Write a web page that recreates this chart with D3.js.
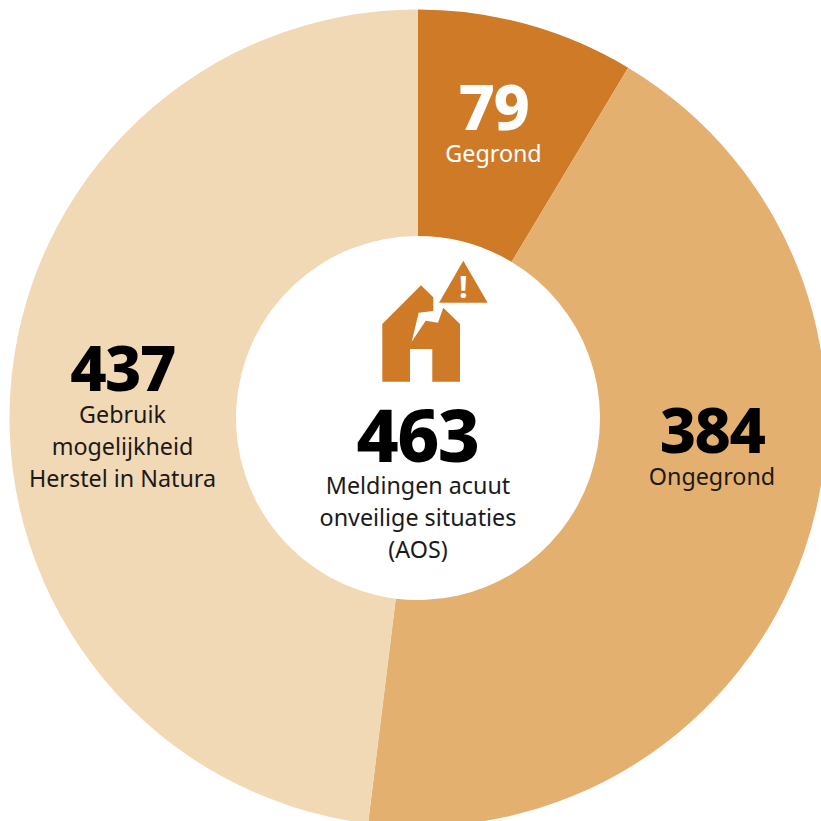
<!DOCTYPE html>
<html>
<head>
<meta charset="utf-8">
<script src="https://cdn.jsdelivr.net/npm/d3@7/dist/d3.min.js"></script>
<style>
html, body { margin: 0; padding: 0; background: #fff; overflow: hidden; }
text { font-family: "Noto Sans", sans-serif; }
</style>
</head>
<body>
<div id="chart"></div>
<script>
const width = 821, height = 821;
const categories = ['Gegrond', 'Ongegrond', 'Gebruik mogelijkheid Herstel in Natura'];
const values = [79, 384, 437];
// the slices in the picture are not exactly proportional to the numbers, these are read off the edges
const sliceShares = [8.6, 43.35, 48.05];
const colors = ['#cf7a27', '#e3b06f', '#f2d9b5'];
const total = 463;
const centerLines = ['Meldingen acuut', 'onveilige situaties', '(AOS)'];
const labelLines = [['Gegrond'], ['Ongegrond'], ['Gebruik', 'mogelijkheid', 'Herstel in Natura']];
const labelPos = [[493.5, 136], [712, 458.5], [122.5, 397]];

const svg = d3.select('#chart').append('svg')
    .attr('width', width)
    .attr('height', height)
    .style('display', 'block');

const cx = 418, cy = 418;
const pie = d3.pie().sort(null)(sliceShares);
const arc = d3.arc().innerRadius(182).outerRadius(408.5);

const g = svg.append('g').attr('transform', `translate(${cx},${cy})`);
g.selectAll('path')
    .data(pie)
    .join('path')
    .attr('d', arc)
    .attr('fill', (d, i) => colors[i]);

// slice labels
labelPos.forEach((p, i) => {
    svg.append('text')
        .attr('x', p[0]).attr('y', p[1] - 6)
        .attr('text-anchor', 'middle')
        .attr('font-size', 63).attr('font-weight', 800)
        .attr('letter-spacing', -1.5)
        .attr('fill', i == 0 ? '#fff' : '#000')
        .text(values[i]);
    labelLines[i].forEach((t, j) => {
        svg.append('text')
            .attr('x', p[0]).attr('y', p[1] + 26 + j * 32)
            .attr('text-anchor', 'middle')
            .attr('font-size', 23.3)
            .attr('fill', i == 0 ? '#fff' : '#1a1a1a')
            .text(t);
    });
});

// center
svg.append('text')
    .attr('x', 417.5).attr('y', 462)
    .attr('text-anchor', 'middle')
    .attr('font-size', 73).attr('font-weight', 800)
    .attr('letter-spacing', -1.5)
    .text(total);
centerLines.forEach((t, j) => {
    svg.append('text')
        .attr('x', 418).attr('y', 494 + j * 32)
        .attr('text-anchor', 'middle')
        .attr('font-size', 23.3)
        .attr('fill', '#1a1a1a')
        .text(t);
});

// house icon
const icon = svg.append('g').attr('fill', '#cf7a27');
icon.append('path').attr('d', 'M382.3 324L421 285.3L433.3 297.3V311L418.7 312.7L411.7 341.7L425.7 320.7L438 322.7L443.3 307.7L460 324V381.7H432.3V349H410V381.7H382.3Z');
icon.append('path').attr('d', 'M463.3 260.7L487.7 302.7H439Z');
svg.append('text').attr('x', 463.4).attr('y', 298)
    .attr('text-anchor', 'middle').attr('font-size', 31).attr('font-weight', 700)
    .attr('fill', '#fff').text('!');
</script>
</body>
</html>
